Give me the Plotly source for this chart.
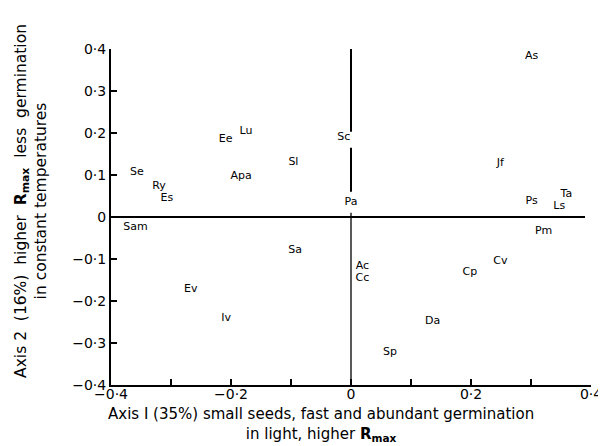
import plotly.graph_objects as go

species = ["As", "Sc", "Jf", "Pa", "Ps", "Ta", "Ls", "Pm", "Cv", "Cp", "Ac", "Cc",
           "Da", "Sp", "Ee", "Lu", "Se", "Ry", "Es", "Apa", "Sl", "Sam", "Sa", "Ev", "Iv"]
axis1 = [0.301, -0.012, 0.249, 0.000, 0.301, 0.359, 0.347, 0.321, 0.249, 0.198, 0.019, 0.019,
         0.136, 0.065, -0.209, -0.175, -0.357, -0.320, -0.307, -0.183, -0.096, -0.359, -0.093, -0.267, -0.208]
axis2 = [0.383, 0.189, 0.129, 0.036, 0.038, 0.053, 0.026, -0.034, -0.105, -0.132, -0.117, -0.146,
         -0.249, -0.321, 0.184, 0.203, 0.107, 0.074, 0.045, 0.098, 0.131, -0.024, -0.079, -0.172, -0.242]

x_tickvals = [-0.4, -0.2, 0, 0.2, 0.4]
x_ticktext = ["\u22120\u00b74", "\u22120\u00b72", "0", "0\u00b72", "0\u00b74"]
y_tickvals = [-0.4, -0.3, -0.2, -0.1, 0, 0.1, 0.2, 0.3, 0.4]
y_ticktext = ["\u22120\u00b74", "\u22120\u00b73", "\u22120\u00b72", "\u22120\u00b71", "0",
              "0\u00b71", "0\u00b72", "0\u00b73", "0\u00b74"]

FONT = "DejaVu Sans"

fig = go.Figure()
fig.add_trace(go.Scatter(
    x=axis1, y=axis2, mode="text", text=species,
    textposition="middle center",
    textfont=dict(family=FONT, size=11, color="black"),
    hoverinfo="skip", showlegend=False,
))

# reference lines
fig.add_shape(type="line", x0=-0.4, x1=0.39, y0=0, y1=0, line=dict(color="black", width=2.2))
fig.add_shape(type="line", x0=0, x1=0, y0=0.4, y1=0.203, line=dict(color="black", width=2))
fig.add_shape(type="line", x0=0, x1=0, y0=0.165, y1=0.06, line=dict(color="black", width=2))
fig.add_shape(type="line", x0=0, x1=0, y0=0.01, y1=-0.4, line=dict(color="black", width=1.3))

sp = "&nbsp;&nbsp;"
fig.update_layout(
    width=606, height=446,
    margin=dict(l=103, r=16, t=41, b=69),
    paper_bgcolor="white", plot_bgcolor="white",
    font=dict(family=FONT, color="black"),
    xaxis=dict(
        range=[-0.4, 0.4], tickvals=x_tickvals, ticktext=x_ticktext,
        showgrid=False, zeroline=False, showline=True, linecolor="black", linewidth=2,
        ticks="inside", ticklen=6, tickwidth=1.5, tickcolor="black",
        minor=dict(dtick=0.1, tick0=0, ticks="inside", ticklen=6, tickwidth=1.5, tickcolor="black"),
        tickfont=dict(size=14, family=FONT),
        ticklabelstandoff=-5,
    ),
    yaxis=dict(
        range=[-0.4, 0.4], tickvals=y_tickvals, ticktext=y_ticktext,
        showgrid=False, zeroline=False, showline=True, linecolor="black", linewidth=2,
        ticks="inside", ticklen=6, tickwidth=1.5, tickcolor="black",
        tickfont=dict(size=14, family=FONT),
    ),
    annotations=[
        dict(xref="paper", yref="paper", x=-0.1665, y=0.548, xanchor="center", yanchor="middle",
             textangle=-90, showarrow=False,
             text=("Axis 2" + sp + "(16%)" + sp + "higher" + sp + "<b>R</b><sub><b>max</b></sub>" + sp
                   + "less" + sp + "germination<br>in constant temperatures"),
             font=dict(size=15.5, family=FONT, color="black")),
        dict(xref="paper", yref="paper", x=0.437, y=-0.117, xanchor="center", yanchor="middle",
             showarrow=False,
             text="Axis I (35%) small seeds, fast and abundant germination<br>in light, higher <b>R</b><sub><b>max</b></sub>",
             font=dict(size=15, family=FONT, color="black")),
    ],
)

fig.write_html("out.html")
